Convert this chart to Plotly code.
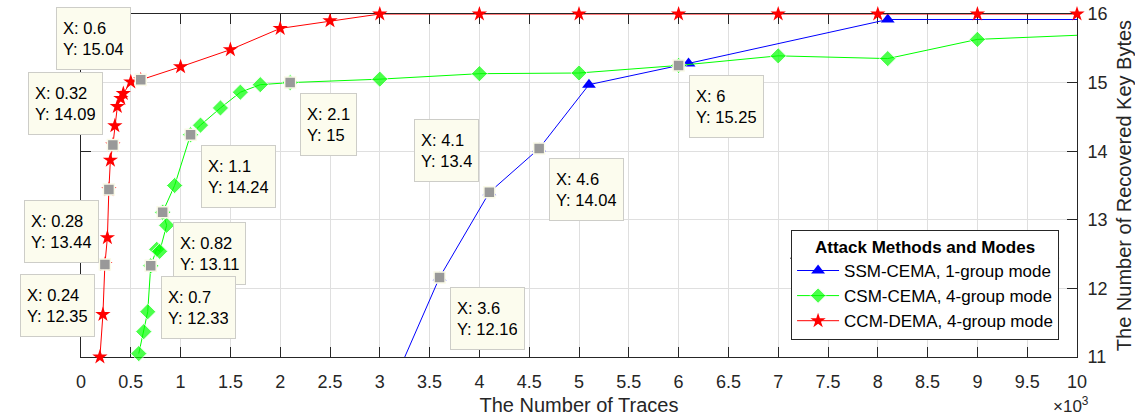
import plotly.graph_objects as go

# ---------------- data ----------------
blue_x = [3.1, 3.6, 4.1, 4.6, 5.1, 6.1, 8.1, 10.1]
blue_y = [10.5, 12.16, 13.4, 14.04, 14.97, 15.28, 15.92, 15.92]

green_x = [0.58, 0.63, 0.67, 0.7, 0.76, 0.79, 0.86, 0.82, 0.94, 1.1, 1.2, 1.4,
           1.6, 1.8, 2.1, 3, 4, 5, 6, 7, 8.1, 9, 10]
green_y = [11.05, 11.37, 11.66, 12.33, 12.57, 12.54, 12.92, 13.11, 13.5, 14.24, 14.38, 14.63,
           14.86, 14.97, 15.0, 15.05, 15.13, 15.14, 15.25, 15.39, 15.35, 15.63, 15.69]

red_x = [0.19, 0.22, 0.24, 0.265, 0.28, 0.295, 0.32, 0.34, 0.365, 0.40, 0.425, 0.5, 0.6,
         1.0, 1.5, 2.0, 2.5, 3, 4, 5, 6, 7, 8, 9, 10]
red_y = [11.0, 11.62, 12.35, 12.74, 13.44, 13.87, 14.09, 14.37, 14.65, 14.77, 14.84, 15.01, 15.04,
         15.23, 15.48, 15.79, 15.9, 16, 16, 16, 16, 16, 16, 16, 16]

tip_x = [0.6, 0.32, 0.28, 0.24, 1.1, 0.82, 0.7, 2.1, 3.6, 4.1, 4.6, 6]
tip_y = [15.04, 14.09, 13.44, 12.35, 14.24, 13.11, 12.33, 15, 12.16, 13.4, 14.04, 15.25]
tip_side = ["ul", "ul", "dl", "dl", "dr", "dr", "dr", "dr", "dr", "ul", "dr", "dr"]

series_names = ["SSM-CEMA, 1-group mode", "CSM-CEMA, 4-group mode", "CCM-DEMA, 4-group mode"]
x_title = "The Number of Traces"
y_title = "The Number of Recovered Key Bytes"
legend_title = "Attack Methods and Modes"

# ---------------- figure ----------------
FONT = "Arial, Liberation Sans, Helvetica, sans-serif"
AX = "#262626"

fig = go.Figure()

fig.add_trace(go.Scatter(
    x=blue_x, y=blue_y, name=series_names[0], mode="lines+markers",
    line=dict(color="#0000FF", width=1),
    marker=dict(symbol="triangle-up", size=12, color="#0000FF"),
    cliponaxis=True))

green_sizes = [12.5] * (len(green_x) - 1) + [0]
fig.add_trace(go.Scatter(
    x=green_x, y=green_y, name=series_names[1], mode="lines+markers",
    line=dict(color="#00FF00", width=1),
    marker=dict(symbol="diamond", size=green_sizes, color="#00FF00"),
    cliponaxis=False))

fig.add_trace(go.Scatter(
    x=red_x, y=red_y, name=series_names[2], mode="lines+markers",
    line=dict(color="#FF0000", width=1),
    marker=dict(symbol="star", size=11.5, color="#FF0000"),
    cliponaxis=False))

fig.add_trace(go.Scatter(
    x=tip_x, y=tip_y, mode="markers", showlegend=False,
    marker=dict(symbol="square", size=11, color="#999999",
                line=dict(color="rgb(250,250,232)", width=1.5)),
    cliponaxis=False))

for x, y, side in zip(tip_x, tip_y, tip_side):
    xa = "left" if side.endswith("r") else "right"
    ya = "top" if side.startswith("d") else "bottom"
    fig.add_annotation(
        x=x, y=y, xref="x", yref="y",
        text=f"X: {x:g}<br>Y: {y:g}", showarrow=False,
        xanchor=xa, yanchor=ya,
        xshift=10 if xa == "left" else -10,
        yshift=-10 if ya == "top" else 10,
        align="left", valign="middle", height=49,
        bgcolor="rgb(252,252,238)", bordercolor="rgb(205,205,200)",
        borderwidth=1, borderpad=6,
        font=dict(family=FONT, size=16.5, color="#000000"))

fig.add_annotation(
    x=1, y=0, xref="paper", yref="paper", text="×10<sup>3</sup>",
    showarrow=False, xanchor="center", yanchor="top", xshift=-6, yshift=-35,
    font=dict(family=FONT, size=17, color=AX))

# separator line under legend title
fig.add_shape(type="line", xref="paper", yref="paper",
              x0=0.712, x1=0.982, y0=0.288, y1=0.288,
              line=dict(color=AX, width=1))

fig.update_layout(
    width=1135, height=417,
    margin=dict(l=81, r=58, t=14, b=60, autoexpand=False),
    paper_bgcolor="white", plot_bgcolor="white",
    font=dict(family=FONT, size=18, color=AX),
    showlegend=True,
    legend=dict(
        title=dict(text=f"<b>{legend_title}</b>", side="top center",
                   font=dict(family=FONT, size=17, color="#000000")),
        font=dict(family=FONT, size=17, color="#000000"),
        x=0.982, xanchor="right", y=0.05, yanchor="bottom",
        bgcolor="white", bordercolor=AX, borderwidth=1,
        itemwidth=42, tracegroupgap=0),
    xaxis=dict(
        range=[0, 10], dtick=0.5, tick0=0, automargin=False,
        showgrid=True, gridcolor="#dfdfdf", gridwidth=1,
        zeroline=False, showline=True, linecolor=AX, linewidth=1,
        mirror="ticks", ticks="inside", ticklen=10, tickcolor=AX,
        ticklabelstandoff=8, layer="below traces",
        tickfont=dict(family=FONT, size=18, color=AX),
        title=dict(text=x_title, standoff=7,
                   font=dict(family=FONT, size=20, color=AX))),
    yaxis=dict(
        range=[11, 16], dtick=1, side="right", automargin=False,
        showgrid=True, gridcolor="#dfdfdf", gridwidth=1,
        zeroline=False, showline=True, linecolor=AX, linewidth=1,
        mirror="ticks", ticks="inside", ticklen=10, tickcolor=AX,
        ticklabelstandoff=6, layer="below traces",
        tickfont=dict(family=FONT, size=18, color=AX),
        title=dict(text=y_title, standoff=10,
                   font=dict(family=FONT, size=20, color=AX))),
)

fig.write_html("out.html", config={"displayModeBar": False},
               post_script="document.body.style.margin='0px';document.body.style.overflow='hidden';")
